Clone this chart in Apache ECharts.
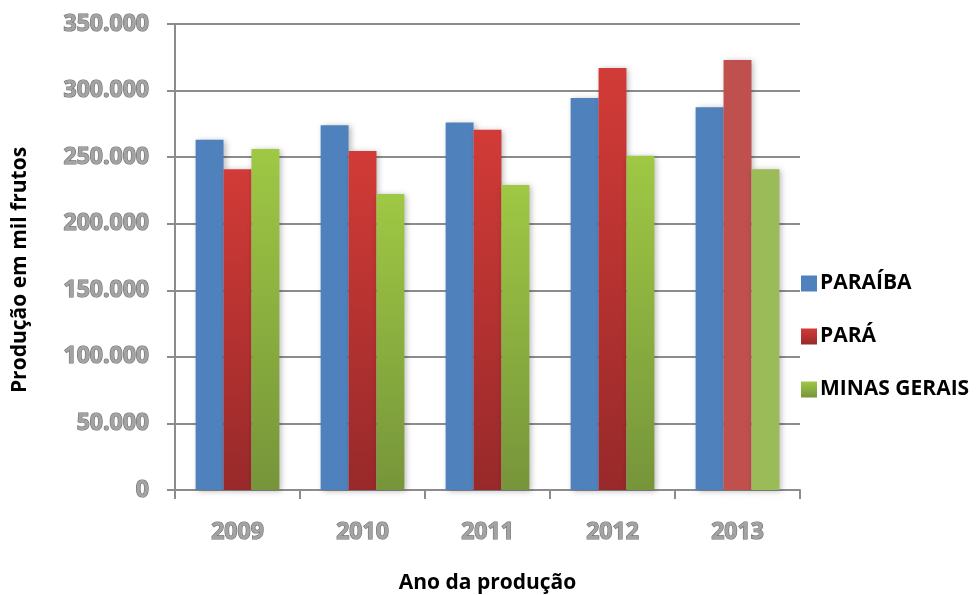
<!DOCTYPE html>
<html>
<head>
<meta charset="utf-8">
<script src="https://cdn.jsdelivr.net/npm/echarts@6/dist/echarts.min.js"></script>
<style>
html,body{margin:0;padding:0;background:#fff;}
#c{width:978px;height:595px;}
</style>
</head>
<body>
<div id="c"></div>
<script>
const years = ['2009', '2010', '2011', '2012', '2013'];
const seriesNames = ['PARAÍBA', 'PARÁ', 'MINAS GERAIS'];
const paraiba = [263000, 274000, 276000, 294500, 287500];
const para = [241000, 254700, 270500, 317000, 323000];
const minasGerais = [256200, 222400, 229000, 251000, 241000];

const grad = (top, bottom) => new echarts.graphic.LinearGradient(0, 0, 0, 1, [
  {offset: 0, color: top}, {offset: 1, color: bottom}
]);

const tickLabelStyle = {
  fontFamily: 'Open Sans', fontWeight: 'bold', fontSize: 23,
  color: '#a3a3a3', textBorderColor: '#6f6f6f', textBorderWidth: 1.2
};
const titleStyle = {fontFamily: 'Open Sans', fontWeight: 'bold', fontSize: 21, color: '#000'};

const shadow = {shadowBlur: 6, shadowColor: 'rgba(0,0,0,0.28)', shadowOffsetX: 2, shadowOffsetY: 1};

function styled(values, lastColor) {
  return values.map((v, i) => i === values.length - 1
    ? {value: v, itemStyle: {color: lastColor}}
    : v);
}

const chart = echarts.init(document.getElementById('c'), null, {renderer: 'canvas'});
chart.setOption({
  animation: false,
  backgroundColor: '#fff',
  grid: {left: 175, right: 178, top: 24, bottom: 105, containLabel: false, outerBoundsMode: 'none'},
  legend: {
    orient: 'vertical', left: 796, top: 268, itemGap: 32,
    itemWidth: 16, itemHeight: 16, icon: 'rect',
    textStyle: {fontFamily: 'Open Sans', fontWeight: 'bold', fontSize: 21, color: '#000', padding: [0, 0, 0, -2]},
    data: seriesNames
  },
  xAxis: {
    type: 'category', data: years,
    name: 'Ano da produção', nameLocation: 'middle', nameGap: 83,
    nameTextStyle: titleStyle,
    axisLine: {lineStyle: {color: '#8c8c8c', width: 2}},
    axisTick: {show: true, length: 9, lineStyle: {color: '#8c8c8c', width: 2}},
    axisLabel: Object.assign({margin: 31}, tickLabelStyle)
  },
  yAxis: {
    type: 'value', min: 0, max: 350000, interval: 50000,
    name: 'Produção em mil frutos', nameLocation: 'middle', nameGap: 144, nameRotate: 90,
    nameTextStyle: Object.assign({padding: [0, 26, 0, 0]}, titleStyle),
    axisLine: {show: true, lineStyle: {color: '#8c8c8c', width: 2}},
    axisTick: {show: true, length: 8, lineStyle: {color: '#8c8c8c', width: 2}},
    splitLine: {lineStyle: {color: '#8c8c8c', width: 2}},
    axisLabel: Object.assign({
      margin: 26,
      formatter: v => v === 0 ? '0' : v.toLocaleString('de-DE')
    }, tickLabelStyle)
  },
  series: [
    {
      name: seriesNames[0], type: 'bar', data: styled(paraiba, '#4f81bd'),
      barGap: '0%', barCategoryGap: '33%',
      itemStyle: Object.assign({color: '#4f81bd'}, shadow)
    },
    {
      name: seriesNames[1], type: 'bar', data: styled(para, '#c0504d'),
      itemStyle: Object.assign({color: grad('#d23b37', '#98292a')}, shadow)
    },
    {
      name: seriesNames[2], type: 'bar', data: styled(minasGerais, '#9bbb59'),
      itemStyle: Object.assign({color: grad('#9fc844', '#76953a')}, shadow)
    }
  ]
});
</script>
</body>
</html>
